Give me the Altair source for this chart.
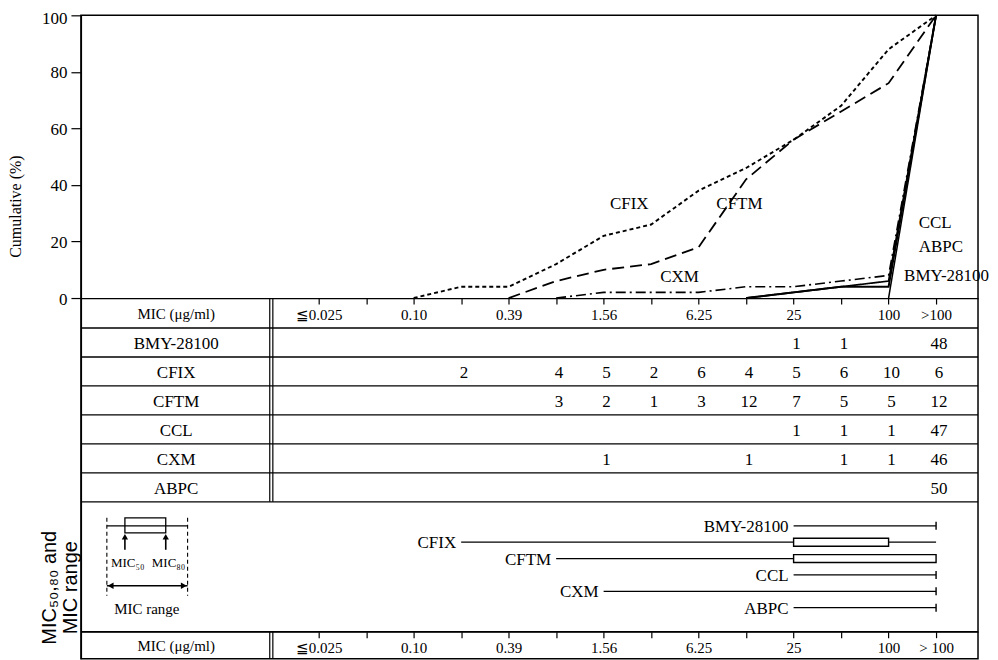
import altair as alt
import pandas as pd

# ---------------- data ----------------
mic_steps = ["0.025", "0.05", "0.10", "0.20", "0.39", "0.78", "1.56",
             "3.13", "6.25", "12.5", "25", "50", "100", ">100"]
top_tick_text = {0: "≦0.025", 2: "0.10", 4: "0.39", 6: "1.56",
                 8: "6.25", 10: "25", 12: "100", 13: ">100"}
bottom_tick_text = {0: "≦0.025", 2: "0.10", 4: "0.39", 6: "1.56",
                    8: "6.25", 10: "25", 12: "100", 13: "> 100"}

drugs = ["BMY-28100", "CFIX", "CFTM", "CCL", "CXM", "ABPC"]
counts_bmy = [0, 0, 0, 0, 0, 0, 0, 0, 0, 0, 1, 1, 0, 48]
counts_cfix = [0, 0, 0, 2, 0, 4, 5, 2, 6, 4, 5, 6, 10, 6]
counts_cftm = [0, 0, 0, 0, 0, 3, 2, 1, 3, 12, 7, 5, 5, 12]
counts_ccl = [0, 0, 0, 0, 0, 0, 0, 0, 0, 0, 1, 1, 1, 47]
counts_cxm = [0, 0, 0, 0, 0, 0, 1, 0, 0, 1, 0, 1, 1, 46]
counts_abpc = [0, 0, 0, 0, 0, 0, 0, 0, 0, 0, 0, 0, 0, 50]

# MIC range, MIC50, MIC80 (indices into mic_steps)
range_min = [10, 3, 5, 10, 6, 10]
range_max = [13, 13, 13, 13, 13, 13]
mic50_idx = [13, 10, 10, 13, 13, 13]
mic80_idx = [13, 12, 13, 13, 13, 13]

curve_label_text = ["CFIX", "CFTM", "CXM", "CCL", "ABPC", "BMY-28100"]
curve_label_x = [6.54, 8.86, 7.6, 12.98, 13.1, 13.22]
curve_label_y = [33.4, 33.4, 7.3, 26.5, 18.1, 7.7]

# ---------------- styles / layout ----------------
line_dash = {"BMY-28100": [1, 0], "CFIX": [4, 3], "CFTM": [12, 6],
             "CCL": [1, 0], "CXM": [10, 4, 2, 4], "ABPC": [1, 0]}
line_width = {"BMY-28100": 2.0, "CFIX": 1.5, "CFTM": 1.6,
              "CCL": 1.8, "CXM": 1.5, "ABPC": 2.2}

PX_PER_PCT = 2.83
TOP_PLOT_PX = 100 * PX_PER_PCT
TOTAL_BOTTOM = 361
W, H = 898, TOP_PLOT_PX + TOTAL_BOTTOM


def below_axis(px):
    return -px / PX_PER_PCT


X_DOM = [-5.006, 13.883]
Y_DOM = [below_axis(TOTAL_BOTTOM), 100]
NAME_X = -3.0
DBL_X = [-1.03, -0.965]
HEADER_H, ROW_H = 30, 29
TABLE_BOTTOM = HEADER_H + 6 * ROW_H
SECTION_BOTTOM = 334
RANGE_Y0, RANGE_STEP = 228, 16.4
BOX_HALF = 4
SERIF = "Liberation Serif"
SANS = "Liberation Sans"

xs = alt.Scale(domain=X_DOM, nice=False, zero=False)
ys = alt.Scale(domain=Y_DOM, nice=False, zero=False)

axis_y = alt.Axis(values=[0, 20, 40, 60, 80, 100], title="Cumulative (%)",
                  tickSize=10, labelPadding=4, labelFontSize=17,
                  labelOffset={"condition": {"test": "datum.value == 100", "value": 3}, "value": 1},
                  titleFontSize=16, titleFontWeight="normal", titleX=-57, titleY=191,
                  titleAngle=270, titleBaseline="bottom", titleAlign="center", grid=False)


def ex(field="x", axis=None):
    return alt.X(f"{field}:Q", scale=xs, axis=axis)


def ey(field="y"):
    return alt.Y(f"{field}:Q", scale=ys, axis=axis_y, title="Cumulative (%)")


def label_expr(d):
    s = "''"
    for k in sorted(d, reverse=True):
        s = f"datum.value == {k} ? '{d[k]}' : " + s
    return s


counts = dict(zip(drugs, [counts_bmy, counts_cfix, counts_cftm,
                          counts_ccl, counts_cxm, counts_abpc]))

# cumulative curves
line_rows = []
for d in drugs:
    c = counts[d]
    total = sum(c)
    first = next(i for i, v in enumerate(c) if v > 0)
    cum = 0
    for i in range(first - 1, len(c)):
        if i >= first:
            cum += c[i]
        line_rows.append({"drug": d, "x": i, "y": 100.0 * cum / total})
line_df = pd.DataFrame(line_rows)

# table cells
name_rows, cell_rows = [], []
for r, d in enumerate(drugs):
    yc = below_axis(HEADER_H + r * ROW_H + ROW_H / 2 + 1.5)
    name_rows.append({"x": NAME_X, "y": yc, "t": d})
    for i, v in enumerate(counts[d]):
        if v:
            cell_rows.append({"x": i + 0.06, "y": yc, "t": str(v)})
name_df = pd.DataFrame(name_rows)
cell_df = pd.DataFrame(cell_rows)

hline_df = pd.DataFrame({"y": [below_axis(HEADER_H + r * ROW_H) for r in range(7)]
                         + [below_axis(SECTION_BOTTOM)]})
vline_df = pd.DataFrame(
    [{"x": xx, "y": 0, "y2": below_axis(TABLE_BOTTOM)} for xx in DBL_X]
    + [{"x": xx, "y": below_axis(SECTION_BOTTOM), "y2": below_axis(TOTAL_BOTTOM)} for xx in DBL_X])

range_rows = []
for r, d in enumerate(drugs):
    yc = RANGE_Y0 + r * RANGE_STEP
    range_rows.append({"drug": d, "lo": range_min[r], "hi": range_max[r],
                       "m50": mic50_idx[r], "m80": mic80_idx[r],
                       "y": below_axis(yc), "yt": below_axis(yc - BOX_HALF),
                       "yb": below_axis(yc + BOX_HALF)})
range_df = pd.DataFrame(range_rows)

header_top_df = pd.DataFrame({"x": [NAME_X], "y": [below_axis(16)], "t": ["MIC  (μg/ml)"]})
header_bot_df = pd.DataFrame({"x": [NAME_X], "y": [below_axis(348)], "t": ["MIC  (μg/ml)"]})

curve_lab_df = pd.DataFrame({"x": curve_label_x, "y": curve_label_y, "t": curve_label_text})

# schematic key (MIC-index units horizontally, px below axis vertically)
SCH_L, SCH_50, SCH_80, SCH_R = -4.46, -4.08, -3.22, -2.76
sch_line = pd.DataFrame({"x": [SCH_L], "x2": [SCH_R], "y": [below_axis(228)]})
sch_box = pd.DataFrame({"x": [SCH_50], "x2": [SCH_80], "y": [below_axis(220)], "y2": [below_axis(235)]})
sch_dash = pd.DataFrame({"x": [SCH_L, SCH_R], "y": [below_axis(220)] * 2, "y2": [below_axis(298)] * 2})
sch_shaft = pd.DataFrame({"x": [SCH_50, SCH_80], "y": [below_axis(252)] * 2, "y2": [below_axis(240)] * 2})
sch_up = pd.DataFrame({"x": [SCH_50, SCH_80], "y": [below_axis(239)] * 2})
sch_range = pd.DataFrame({"x": [SCH_L], "x2": [SCH_R], "y": [below_axis(288)]})
sch_left = pd.DataFrame({"x": [SCH_L + 0.08], "y": [below_axis(288)]})
sch_right = pd.DataFrame({"x": [SCH_R - 0.08], "y": [below_axis(288)]})
sch_text = pd.DataFrame({"x": [-4.02, -3.16], "y": [below_axis(265)] * 2, "t": ["MIC₅₀", "MIC₈₀"]})
sch_text2 = pd.DataFrame({"x": [-3.62], "y": [below_axis(311)], "t": ["MIC range"]})
side_df = pd.DataFrame({"x": [-5.66], "y": [below_axis(290)], "t": ["MIC₅₀,₈₀ and\nMIC range"]})

# ---------------- axes ----------------
axis_top = alt.Axis(values=list(range(14)), labelExpr=label_expr(top_tick_text),
                    orient="bottom", offset=-(TOTAL_BOTTOM), tickSize=6,
                    labelPadding=3, labelFontSize=15, title=None,
                    labelOverlap=False, labelFlush=False, grid=False)
axis_bot = alt.Axis(values=list(range(14)), labelExpr=label_expr(bottom_tick_text),
                    orient="bottom", offset=-(TOTAL_BOTTOM - SECTION_BOTTOM), tickSize=6,
                    labelPadding=3, labelFontSize=15, title=None,
                    labelOverlap=False, labelFlush=False, grid=False)

# ---------------- layers ----------------
lines = alt.Chart(line_df).mark_line(color="black", interpolate="linear").encode(
    x=ex(axis=axis_top),
    y=ey(),
    detail="drug:N",
    strokeDash=alt.StrokeDash("drug:N", scale=alt.Scale(domain=drugs, range=[line_dash[d] for d in drugs]), legend=None),
    strokeWidth=alt.StrokeWidth("drug:N", scale=alt.Scale(domain=drugs, range=[line_width[d] for d in drugs]), legend=None),
)

hlines = alt.Chart(hline_df).mark_rule(color="black", strokeWidth=1.3).encode(y=ey())
vlines = alt.Chart(vline_df).mark_rule(color="black", strokeWidth=1.2).encode(
    x=ex(), y=ey(), y2=alt.Y2("y2:Q"))

rng = alt.Chart(range_df).mark_rule(color="black", strokeWidth=1.2).encode(
    x=ex("lo"), x2=alt.X2("hi:Q"), y=ey())
boxes = alt.Chart(range_df).mark_rect(fill="white", stroke="black", strokeWidth=1.4).encode(
    x=ex("m50"), x2=alt.X2("m80:Q"), y=ey("yt"), y2=alt.Y2("yb:Q"))
rng_lab = alt.Chart(range_df).mark_text(align="right", baseline="middle", dx=-5, dy=1,
                                         fontSize=17, font=SERIF, color="black").encode(
    x=ex("lo"), y=ey(), text="drug:N")

names = alt.Chart(name_df).mark_text(align="center", baseline="middle", fontSize=17,
                                     font=SERIF, color="black").encode(x=ex(), y=ey(), text="t:N")
cells = alt.Chart(cell_df).mark_text(align="center", baseline="middle", fontSize=17,
                                     font=SERIF, color="black").encode(x=ex(), y=ey(), text="t:N")
head_top = alt.Chart(header_top_df).mark_text(align="center", baseline="middle", fontSize=15,
                                              font=SERIF, color="black").encode(x=ex(), y=ey(), text="t:N")
head_bot = alt.Chart(header_bot_df).mark_text(align="center", baseline="middle", fontSize=15,
                                              font=SERIF, color="black").encode(
    x=ex(axis=axis_bot), y=ey(), text="t:N")

curve_labs = alt.Chart(curve_lab_df).mark_text(align="center", baseline="middle", fontSize=17,
                                               font=SERIF, color="black").encode(x=ex(), y=ey(), text="t:N")

k_line = alt.Chart(sch_line).mark_rule(color="black", strokeWidth=1.2).encode(x=ex(), x2=alt.X2("x2:Q"), y=ey())
k_box = alt.Chart(sch_box).mark_rect(fill=None, stroke="black", strokeWidth=1.3).encode(
    x=ex(), x2=alt.X2("x2:Q"), y=ey(), y2=alt.Y2("y2:Q"))
k_dash = alt.Chart(sch_dash).mark_rule(color="black", strokeWidth=1.1, strokeDash=[4, 3]).encode(
    x=ex(), y=ey(), y2=alt.Y2("y2:Q"))
k_shaft = alt.Chart(sch_shaft).mark_rule(color="black", strokeWidth=1.6).encode(x=ex(), y=ey(), y2=alt.Y2("y2:Q"))
k_up = alt.Chart(sch_up).mark_point(shape="triangle-up", filled=True, size=40, color="black", opacity=1).encode(x=ex(), y=ey())
k_range = alt.Chart(sch_range).mark_rule(color="black", strokeWidth=1.6).encode(x=ex(), x2=alt.X2("x2:Q"), y=ey())
k_left = alt.Chart(sch_left).mark_point(shape="triangle-left", filled=True, size=45, color="black", opacity=1).encode(x=ex(), y=ey())
k_right = alt.Chart(sch_right).mark_point(shape="triangle-right", filled=True, size=45, color="black", opacity=1).encode(x=ex(), y=ey())
k_text = alt.Chart(sch_text).mark_text(align="center", baseline="middle", fontSize=13,
                                       font=SERIF, color="black").encode(x=ex(), y=ey(), text="t:N")
k_text2 = alt.Chart(sch_text2).mark_text(align="center", baseline="middle", fontSize=15,
                                         font=SERIF, color="black").encode(x=ex(), y=ey(), text="t:N")
side = alt.Chart(side_df).mark_text(align="center", baseline="middle", fontSize=20, angle=270,
                                    lineBreak="\n", lineHeight=21, font=SANS, color="black").encode(
    x=ex(), y=ey(), text="t:N")

chart = alt.layer(
    lines, hlines, vlines, rng, boxes, rng_lab, names, cells, head_top, head_bot,
    k_line, k_box, k_dash, k_shaft, k_up, k_range, k_left, k_right, k_text, k_text2, side,
    curve_labs,
).resolve_axis(x="independent").properties(
    width=W, height=H,
    autosize=alt.AutoSizeParams(type="none"),
    padding={"left": 73, "top": 7, "right": 12, "bottom": 1},
).configure_view(stroke="black", strokeWidth=1.5).configure_axis(
    labelFont=SERIF, titleFont=SERIF, labelColor="black", titleColor="black",
    domainColor="black", tickColor="black", domainWidth=1.3, tickWidth=1.2,
)

chart.save("out.html", embed_options={"renderer": "svg", "actions": False})
